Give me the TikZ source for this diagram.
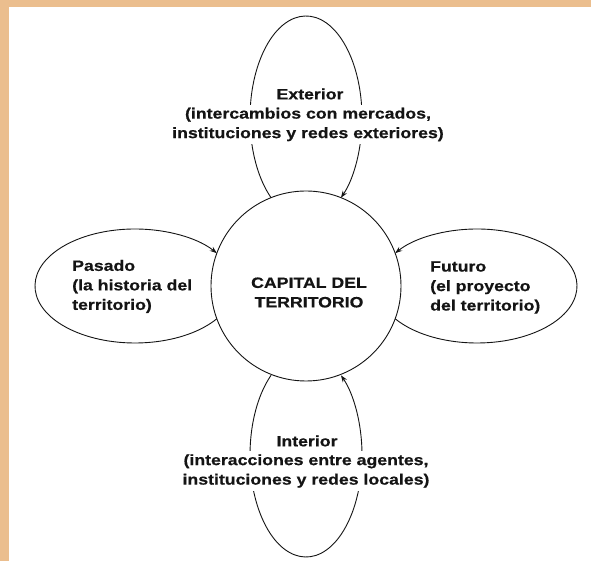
\documentclass[tikz,border=0pt]{standalone}
\usepackage{fontspec}
\newfontfamily\labfont[FakeStretch=1.18,FakeBold=0.5]{Liberation Sans Bold}
\usetikzlibrary{arrows.meta}
\definecolor{bgpeach}{HTML}{EBBE8E}
\definecolor{ink}{HTML}{141414}
\tikzset{
  lab/.style={font=\labfont\fontsize{15}{19.5}\selectfont, text=ink, inner sep=0pt},
  cutlab/.style={lab, fill=white, inner sep=3pt, align=center},
  flow/.style={draw=ink, line width=0.9pt, -{Stealth[length=7pt,width=5pt]}},
  hub/.style={draw=ink, line width=0.9pt, circle, minimum size=190pt, inner sep=0pt}
}
\begin{document}
\begin{tikzpicture}[x=1pt,y=1pt]
\useasboundingbox (0,0) rectangle (591,561);
\fill[bgpeach] (0,0) rectangle (591,561);
\fill[white] (9,0) rectangle (591,554);

% centres of the loops
\coordinate (extC) at (306,443);
\coordinate (intC) at (306,106);
\coordinate (pasC) at (135,275);
\coordinate (futC) at (477,275);

% central circle
\node[hub] (cap) at (306,275) {};
\node[lab, align=center] (captxt) at (309,268.5) {CAPITAL DEL\\TERRITORIO};

% loops
\draw[flow] (extC) ++(231.4:56pt and 102pt) arc[start angle=231.4, end angle=-51.4, x radius=56pt, y radius=102pt];
\draw[flow] (intC) ++(128.6:56pt and 102pt) arc[start angle=128.6, end angle=411.4, x radius=56pt, y radius=102pt];
\draw[flow] (pasC) ++(-35.1:100pt and 57pt) arc[start angle=-35.1, end angle=-324.9, x radius=100pt, y radius=57pt];
\draw[flow] (futC) ++(215.1:100pt and 57pt) arc[start angle=215.1, end angle=504.9, x radius=100pt, y radius=57pt];

% Exterior
\node[lab] (exttitle) at (310,467) {Exterior};
\node[cutlab] (extdesc) at (308,436.5) {(intercambios con mercados,\\instituciones y redes exteriores)};

% Interior
\node[lab] (inttitle) at (307,120) {Interior};
\node[cutlab] (intdesc) at (306,90) {(interacciones entre agentes,\\instituciones y redes locales)};

% Pasado
\node[lab, align=left, anchor=west] (pastxt) at (72,274.5) {Pasado\\(la historia del\\territorio)};

% Futuro
\node[lab, align=left, anchor=west] (futtxt) at (430,273.5) {Futuro\\(el proyecto\\del territorio)};
\end{tikzpicture}
\end{document}
